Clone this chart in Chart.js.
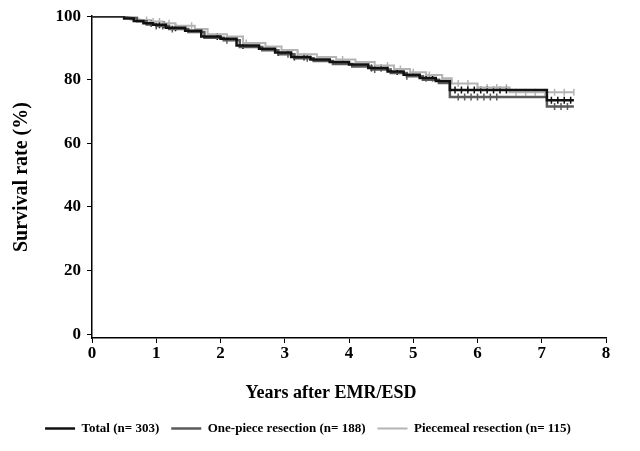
<!doctype html>
<html>
  <head>
    <title>Survival after EMR/ESD</title>
    <script src="https://cdn.jsdelivr.net/npm/chart.js"></script>
    <style>
      html, body { margin: 0; padding: 0; background: #fff; }
      #wrap { width: 640px; height: 451px; }
    </style>
  </head>
  <body>
    <div id="wrap"><canvas id="kmChart"></canvas></div>

    <script>
      // Kaplan-Meier steps (years, survival %)
      var totalT = [0, 0.5, 0.65, 0.8, 0.95, 1.15, 1.45, 1.7, 2.0, 2.25, 2.6, 2.85, 3.1, 3.4, 3.7, 4.0, 4.3, 4.6, 4.85, 5.1, 5.35, 5.57, 7.08, 7.5];
      var totalV = [100, 99.3, 98.5, 97.8, 97.3, 96.4, 95.4, 93.6, 92.9, 90.8, 89.8, 88.6, 87.2, 86.4, 85.6, 84.8, 83.7, 82.6, 81.6, 80.6, 79.6, 76.8, 73.6, 73.6];

      var onePieceT = [0, 0.55, 0.7, 0.85, 1.0, 1.2, 1.5, 1.75, 2.05, 2.3, 2.65, 2.9, 3.15, 3.45, 3.75, 4.05, 4.35, 4.65, 4.9, 5.15, 5.4, 5.57, 7.08, 7.5];
      var onePieceV = [100, 99.5, 98.4, 97.4, 96.9, 96.0, 95.0, 93.2, 92.4, 90.3, 89.3, 88.0, 86.8, 85.9, 85.0, 84.2, 83.2, 82.1, 81.1, 80.0, 79.0, 74.6, 71.6, 71.6];

      var piecemealT = [0, 0.6, 0.75, 0.9, 1.1, 1.3, 1.6, 1.8, 2.1, 2.35, 2.7, 2.95, 3.2, 3.5, 3.8, 4.1, 4.4, 4.7, 4.95, 5.2, 5.45, 5.6, 6.0, 6.5, 7.5];
      var piecemealV = [100, 99.0, 98.8, 98.3, 97.8, 97.0, 96.0, 94.3, 93.6, 91.6, 90.5, 89.4, 88.0, 87.2, 86.4, 85.6, 84.5, 83.4, 82.4, 81.5, 80.5, 78.8, 77.6, 76.1, 76.1];

      // censored observations (years)
      var totalC = [0.92, 1.05, 1.12, 1.3, 1.95, 2.35, 2.9, 3.15, 3.3, 4.35, 4.5, 4.75, 5.2, 5.3, 5.65, 5.75, 5.85, 5.95, 6.05, 6.15, 6.25, 6.35, 6.45, 7.15, 7.25, 7.35, 7.45];
      var onePieceC = [1.0, 1.1, 1.25, 2.1, 3.05, 3.35, 4.4, 4.9, 5.7, 5.8, 5.9, 6.0, 6.1, 6.2, 6.3, 7.2, 7.3, 7.4];
      var piecemealC = [0.85, 0.95, 1.05, 1.2, 1.55, 2.4, 3.2, 3.9, 4.6, 4.8, 5.0, 5.25, 5.7, 5.85, 6.0, 6.15, 6.3, 6.45, 6.6, 6.75, 6.9, 7.05, 7.2, 7.35, 7.5];

      var seriesLabels = ["Total (n= 303)", "One-piece resection (n= 188)", "Piecemeal resection (n= 115)"];
      var xTicks = [0, 1, 2, 3, 4, 5, 6, 7, 8];
      var yTicks = [0, 20, 40, 60, 80, 100];

      function toPoints(ts, vs) {
        return ts.map(function (t, i) { return { x: t, y: vs[i] }; });
      }

      // value of the step curve at time t
      function stepAt(ts, vs, t) {
        var v = vs[0];
        for (var i = 0; i < ts.length; i++) {
          if (ts[i] <= t) v = vs[i];
        }
        return v;
      }

      function censorPoints(cs, ts, vs) {
        return cs.map(function (t) { return { x: t, y: stepAt(ts, vs, t) }; });
      }

      var colTotal = "#111111";
      var colOne = "#5a5a5a";
      var colPiece = "#b4b4b4";

      function curve(label, ts, vs, color, width) {
        return {
          type: "line",
          label: label,
          data: toPoints(ts, vs),
          borderColor: color,
          backgroundColor: color,
          borderWidth: width,
          stepped: "before",
          pointRadius: 0,
          fill: false,
        };
      }

      function ticksSet(cs, ts, vs, color) {
        return {
          type: "scatter",
          label: "",
          data: censorPoints(cs, ts, vs),
          pointStyle: "line",
          rotation: 90,
          pointRadius: 3.5,
          pointBorderWidth: 1.5,
          borderColor: color,
          backgroundColor: color,
          showLine: false,
        };
      }

      Chart.defaults.font.family = "'Liberation Serif', 'DejaVu Serif', serif";
      Chart.defaults.font.weight = "bold";
      Chart.defaults.color = "#000";

      var ctx = document.getElementById("kmChart").getContext("2d");
      var chart = new Chart(ctx, {
        data: {
          datasets: [
            curve(seriesLabels[0], totalT, totalV, colTotal, 2.5),
            curve(seriesLabels[1], onePieceT, onePieceV, colOne, 2.5),
            curve(seriesLabels[2], piecemealT, piecemealV, colPiece, 2),
            ticksSet(totalC, totalT, totalV, colTotal),
            ticksSet(onePieceC, onePieceT, onePieceV, colOne),
            ticksSet(piecemealC, piecemealT, piecemealV, colPiece),
          ],
        },
        options: {
          responsive: true,
          maintainAspectRatio: false,
          animation: false,
          layout: { padding: { left: 10, right: 34, top: 14, bottom: 6 } },
          plugins: {
            tooltip: { enabled: false },
            legend: {
              position: "bottom",
              labels: {
                usePointStyle: true,
                pointStyle: "line",
                pointStyleWidth: 30,
                padding: 12,
                font: { size: 13, weight: "bold" },
                filter: function (item) { return item.text !== ""; },
              },
            },
          },
          scales: {
            x: {
              type: "linear",
              min: 0,
              max: 8,
              afterBuildTicks: function (scale) {
                scale.ticks = xTicks.map(function (v) { return { value: v }; });
              },
              afterFit: function (scale) { scale.height = 72; },
              border: { color: "#000", width: 1.5 },
              grid: { drawOnChartArea: false, color: "#000", tickLength: 5 },
              ticks: { padding: 0, font: { size: 17, weight: "bold" }, maxRotation: 0 },
              title: {
                display: true,
                // trailing spaces pull the centred title a little left, as in the source
                text: "Years after EMR/ESD\u00a0\u00a0\u00a0\u00a0\u00a0\u00a0\u00a0\u00a0",
                font: { size: 18, weight: "bold" },
                padding: { top: 0, bottom: 6 },
              },
            },
            y: {
              type: "linear",
              min: -1.2,
              max: 100,
              afterBuildTicks: function (scale) {
                scale.ticks = yTicks.map(function (v) { return { value: v }; });
              },
              afterFit: function (scale) { scale.width = 82; },
              border: { color: "#000", width: 1.5 },
              grid: { drawOnChartArea: false, color: "#000", tickLength: 5 },
              ticks: { padding: 6, font: { size: 17, weight: "bold" } },
              title: {
                display: true,
                text: "Survival rate (%)",
                font: { size: 20, weight: "bold" },
                padding: { top: 0, bottom: 0 },
              },
            },
          },
        },
      });
    </script>
  </body>
</html>
